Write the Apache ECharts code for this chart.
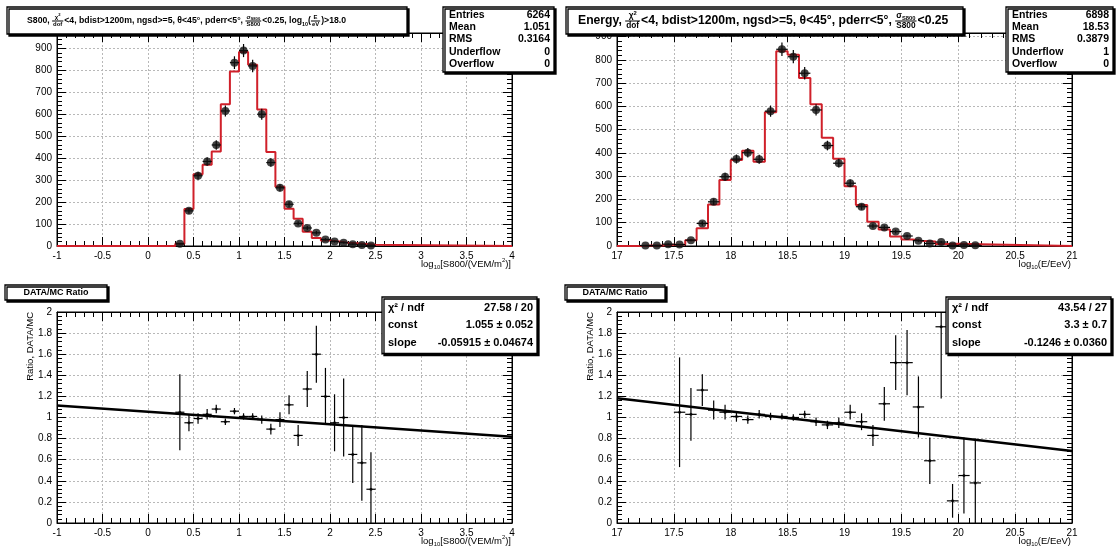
<!DOCTYPE html>
<html>
<head>
<meta charset="utf-8">
<script src="https://cdn.jsdelivr.net/npm/echarts@6/dist/echarts.min.js"></script>
<style>
html, body { margin: 0; background: #fff; }
#main { width: 1118px; height: 552px; }
</style>
</head>
<body>
<div id="main"></div>
<script>
// histogram bins are 0.1 wide, arrays start at the given low edge
var s800Start = 0.3;
var s800Data = [10, 160, 320, 385, 460, 615, 835, 890, 820, 600, 380, 265, 190, 103, 82, 60, 30, 20, 15, 8, 5, 2];
var s800Mc   = [10, 168, 327, 370, 430, 645, 795, 883, 825, 622, 428, 270, 170, 124, 65, 37, 25, 21, 15, 12, 9, 6];

var energyStart = 17.2;
var energyData = [2, 2, 8, 6, 25, 97, 190, 298, 374, 401, 373, 580, 846, 814, 743, 585, 432, 356, 270, 169, 86, 80, 62, 43, 23, 11, 17, 2, 4, 3];
var energyMc   = [2, 2, 5, 6, 25, 76, 178, 284, 370, 410, 362, 575, 838, 822, 722, 610, 465, 375, 257, 176, 104, 71, 41, 28, 21, 19, 9, 10, 9, 8];

// DATA/MC ratios
var ratioS800X   = [0.35, 0.45, 0.55, 0.65, 0.75, 0.85, 0.95, 1.05, 1.15, 1.25, 1.35, 1.45, 1.55, 1.65, 1.75, 1.85, 1.95, 2.05, 2.15, 2.25, 2.35, 2.45];
var ratioS800    = [1.05, 0.95, 0.99, 1.03, 1.08, 0.96, 1.06, 1.01, 1.01, 0.98, 0.89, 0.98, 1.12, 0.83, 1.27, 1.60, 1.20, 0.95, 1.00, 0.65, 0.57, 0.32];
var ratioS800Err = [0.36, 0.08, 0.05, 0.05, 0.04, 0.03, 0.03, 0.03, 0.03, 0.04, 0.05, 0.07, 0.09, 0.10, 0.17, 0.27, 0.27, 0.27, 0.37, 0.27, 0.36, 0.35];

var ratioEnergyX   = [17.55, 17.65, 17.75, 17.85, 17.95, 18.05, 18.15, 18.25, 18.35, 18.45, 18.55, 18.65, 18.75, 18.85, 18.95, 19.05, 19.15, 19.25, 19.35, 19.45, 19.55, 19.65, 19.75, 19.85, 19.95, 20.05, 20.15];
var ratioEnergy    = [1.05, 1.03, 1.26, 1.07, 1.05, 1.01, 0.98, 1.03, 1.01, 1.01, 1.00, 1.03, 0.96, 0.93, 0.95, 1.05, 0.96, 0.83, 1.13, 1.52, 1.52, 1.10, 0.59, 1.86, 0.21, 0.45, 0.38];
var ratioEnergyErr = [0.52, 0.25, 0.15, 0.09, 0.07, 0.05, 0.04, 0.04, 0.035, 0.03, 0.03, 0.035, 0.04, 0.04, 0.05, 0.07, 0.08, 0.10, 0.16, 0.26, 0.31, 0.29, 0.22, 0.68, 0.16, 0.36, 0.42];

// fitted lines (end points)
var fitS800X = [-1, 4];
var fitS800Y = [1.114, 0.818];
var fitEnergyX = [17, 21];
var fitEnergyY = [1.182, 0.683];

var statsS800 = [['Entries', '6264'], ['Mean', '1.051'], ['RMS', '0.3164'], ['Underflow', '0'], ['Overflow', '0']];
var statsEnergy = [['Entries', '6898'], ['Mean', '18.53'], ['RMS', '0.3879'], ['Underflow', '1'], ['Overflow', '0']];
var fitS800Rows = [['\u03c7\u00b2 / ndf', '27.58 / 20'], ['const', '1.055 \u00b1 0.052'], ['slope', '-0.05915 \u00b1 0.04674']];
var fitEnergyRows = [['\u03c7\u00b2 / ndf', '43.54 / 27'], ['const', '3.3 \u00b1 0.7'], ['slope', '-0.1246 \u00b1 0.0360']];

var FONT = '"Liberation Sans", Arial, sans-serif';
var RED = '#d0202a';

var mctx = document.createElement('canvas').getContext('2d');
function tw(s, size, weight) {
	mctx.font = (weight || 'normal') + ' ' + size + 'px ' + FONT;
	return mctx.measureText(s).width;
}

function r1(v) { return Math.round(v * 100) / 100; }

function stepData(start, vals, lo, hi) {
	var pts = [[lo, 0]];
	for (var i = 0; i < vals.length; i++) pts.push([r1(start + i * 0.1), vals[i]]);
	pts.push([r1(start + vals.length * 0.1), 0]);
	pts.push([hi, 0]);
	return pts;
}
function histPoints(start, vals) {
	return vals.map(function (v, i) { return [r1(start + (i + 0.5) * 0.1), v, Math.sqrt(v), 0.05]; });
}
function ratioPoints(xs, ys, es) {
	return xs.map(function (x, i) { return [x, ys[i], es[i], 0.05]; });
}

function errItem(params, api) {
	var x = api.value(0), y = api.value(1), ey = api.value(2), ex = api.value(3);
	var c = api.coord([x, y]);
	var t = api.coord([x, y + ey]);
	var b = api.coord([x, y - ey]);
	var l = api.coord([x - ex, y]);
	var r = api.coord([x + ex, y]);
	var st = { stroke: '#000', lineWidth: 1.2 };
	return { type: 'group', children: [
		{ type: 'line', shape: { x1: c[0], y1: t[1], x2: c[0], y2: b[1] }, style: st },
		{ type: 'line', shape: { x1: l[0], y1: c[1], x2: r[0], y2: c[1] }, style: st }
	] };
}

var tickCommon = {
	axisLine: { show: true, onZero: false, lineStyle: { color: '#000', width: 1 } },
	axisTick: { show: true, inside: true, length: 9, lineStyle: { color: '#000', width: 1 } },
	minorTick: { show: true, splitNumber: 5, length: 5, lineStyle: { color: '#000', width: 1 } }
};
function axisPair(g, min, max, interval, first, second) {
	var a = Object.assign({
		gridIndex: g, type: 'value', min: min, max: max, interval: interval, position: first,
		splitLine: { show: true, lineStyle: { color: '#b8b8b8', type: [2, 2], width: 1 } },
		axisLabel: { color: '#000', fontSize: 10, fontFamily: FONT, margin: 5, showMaxLabel: (max % interval) < 1e-9 || interval - (max % interval) < 1e-9 }
	}, tickCommon);
	var b = Object.assign({
		gridIndex: g, type: 'value', min: min, max: max, interval: interval, position: second,
		splitLine: { show: false }, axisLabel: { show: false }
	}, tickCommon);
	return [a, b];
}

var xAxes = [].concat(
	axisPair(0, -1, 4, 0.5, 'bottom', 'top'),
	axisPair(1, 17, 21, 0.5, 'bottom', 'top'),
	axisPair(2, -1, 4, 0.5, 'bottom', 'top'),
	axisPair(3, 17, 21, 0.5, 'bottom', 'top')
);
var yAxes = [].concat(
	axisPair(0, 0, 970, 100, 'left', 'right'),
	axisPair(1, 0, 916, 100, 'left', 'right'),
	axisPair(2, 0, 2, 0.2, 'left', 'right'),
	axisPair(3, 0, 2, 0.2, 'left', 'right')
);

function histSeries(g, start, data, mc, lo, hi) {
	return [
		{ type: 'line', xAxisIndex: 2 * g, yAxisIndex: 2 * g, data: stepData(start, mc, lo, hi), step: 'end',
		  symbol: 'none', lineStyle: { color: RED, width: 2 }, z: 2, animation: false },
		{ type: 'custom', xAxisIndex: 2 * g, yAxisIndex: 2 * g, data: histPoints(start, data), renderItem: errItem,
		  encode: { x: 0, y: 1 }, clip: true, z: 3, animation: false },
		{ type: 'scatter', xAxisIndex: 2 * g, yAxisIndex: 2 * g, data: histPoints(start, data), symbolSize: 8,
		  itemStyle: { color: '#111' }, z: 4, animation: false }
	];
}
function ratioSeries(g, xs, ys, es, fx, fy) {
	return [
		{ type: 'custom', xAxisIndex: 2 * g, yAxisIndex: 2 * g, data: ratioPoints(xs, ys, es), renderItem: errItem,
		  encode: { x: 0, y: 1 }, clip: true, z: 3, animation: false },
		{ type: 'scatter', xAxisIndex: 2 * g, yAxisIndex: 2 * g, data: ratioPoints(xs, ys, es), symbolSize: 3,
		  itemStyle: { color: '#000' }, z: 4, animation: false },
		{ type: 'line', xAxisIndex: 2 * g, yAxisIndex: 2 * g, data: fx.map(function (x, i) { return [x, fy[i]]; }),
		  symbol: 'none', lineStyle: { color: '#000', width: 2.5 }, z: 5, animation: false }
	];
}

// ---- text boxes ----
function txt(x, y, s, size, weight, align) {
	return { type: 'text', x: x, y: y, z: 101, style: { text: s, font: weight + ' ' + size + 'px ' + FONT, fill: '#000',
		align: align || 'left', verticalAlign: 'middle', textAlign: align || 'left', textVerticalAlign: 'middle' } };
}
function box(x, y, w, h) {
	return { type: 'rect', z: 100, shape: { x: x, y: y, width: w, height: h },
		style: { fill: '#fff', stroke: '#000', lineWidth: 1.3, shadowColor: '#000', shadowOffsetX: 2, shadowOffsetY: 2, shadowBlur: 0 } };
}
function buildMath(segs, size, weight) {
	var els = [], x = 0, fs = size * 0.68, ss = size * 0.62;
	function t(px, py, s, sz) { els.push(txt(px, py, s, sz, weight)); return tw(s, sz, weight); }
	segs.forEach(function (s) {
		if (typeof s === 'string') x += t(x, 0, s, size);
		else if (s.sub) x += t(x, size * 0.35, s.sub, ss);
		else if (s.sup) x += t(x, -size * 0.4, s.sup, ss);
		else {
			var nw = tw(s.n, fs, weight) + (s.nsub ? tw(s.nsub, fs * 0.7, weight) : 0) + (s.nsup ? tw(s.nsup, fs * 0.7, weight) : 0);
			var dw = tw(s.d, fs, weight);
			var w = Math.max(nw, dw) + 2;
			var ny = -fs * 0.62;
			var nx = x + 1 + (w - 2 - nw) / 2;
			nx += t(nx, ny, s.n, fs);
			if (s.nsub) t(nx, ny + fs * 0.3, s.nsub, fs * 0.7);
			if (s.nsup) t(nx, ny - fs * 0.35, s.nsup, fs * 0.7);
			els.push({ type: 'line', z: 101, shape: { x1: x, y1: 0, x2: x + w, y2: 0 }, style: { stroke: '#000', lineWidth: 1 } });
			t(x + 1 + (w - 2 - dw) / 2, fs * 0.62, s.d, fs);
			x += w + 1;
		}
	});
	return { els: els, width: x };
}
function mathGroup(segs, x0, cy, size, weight, align, fitWidth) {
	if (fitWidth) size = size * fitWidth / buildMath(segs, size, weight).width;
	var m = buildMath(segs, size, weight);
	return { type: 'group', x: align === 'right' ? x0 - m.width : x0, y: cy, z: 101, children: m.els };
}

var titleS800 = ['S800, ', { n: '\u03c7', nsup: '2', d: 'dof' }, '<4, bdist>1200m, ngsd>=5, \u03b8<45\u00b0, pderr<5\u00b0, ',
	{ n: '\u03c3', nsub: 'S800', d: 'S800' }, '<0.25, log', { sub: '10' }, '(', { n: 'E', d: 'eV' }, ')>18.0'];
var titleEnergy = ['Energy, ', { n: '\u03c7', nsup: '2', d: 'dof' }, '<4, bdist>1200m, ngsd>=5, \u03b8<45\u00b0, pderr<5\u00b0, ',
	{ n: '\u03c3', nsub: 'S800', d: 'S800' }, '<0.25'];
var xTitleS800 = ['log', { sub: '10' }, '[S800/(VEM/m', { sup: '2' }, ')]'];
var xTitleEnergy = ['log', { sub: '10' }, '(E/EeV)'];

function statsBox(x, y, w, rows, rowH, size) {
	var els = [box(x, y, w, rows.length * rowH + 4)];
	rows.forEach(function (r, i) {
		var cy = y + 2 + rowH * (i + 0.5);
		els.push(txt(x + 6, cy, r[0], size, 'bold'));
		els.push(txt(x + w - 4, cy, r[1], size, 'bold', 'right'));
	});
	return els;
}

var elements = [].concat(
	[box(7, 7, 400, 27), mathGroup(titleS800, 27, 21, 10, 'bold', 'left', 318)],
	[box(566, 7, 397, 27), mathGroup(titleEnergy, 578, 21, 10, 'bold', 'left', 372)],
	statsBox(443, 7, 111, statsS800, 12.2, 10.5),
	statsBox(1006, 7, 107, statsEnergy, 12.2, 10.5),
	[box(5, 285, 102, 15), txt(56, 292.5, 'DATA/MC Ratio', 9, 'bold', 'center')],
	[box(565, 285, 100, 15), txt(615, 292.5, 'DATA/MC Ratio', 9, 'bold', 'center')],
	statsBox(382, 297, 155, fitS800Rows, 17.5, 11),
	statsBox(946, 297, 165, fitEnergyRows, 17.5, 11),
	[mathGroup(xTitleS800, 511, 264, 9.5, 'normal', 'right'),
	 mathGroup(xTitleEnergy, 1071, 264, 9.5, 'normal', 'right'),
	 mathGroup(xTitleS800, 511, 541, 9.5, 'normal', 'right'),
	 mathGroup(xTitleEnergy, 1071, 541, 9.5, 'normal', 'right')],
	[{ type: 'text', x: 30, y: 312, rotation: Math.PI / 2, z: 101,
	   style: { text: 'Ratio, DATA/MC', font: 'normal 9.5px ' + FONT, fill: '#000', align: 'right', verticalAlign: 'middle', textAlign: 'right', textVerticalAlign: 'middle' } },
	 { type: 'text', x: 590, y: 312, rotation: Math.PI / 2, z: 101,
	   style: { text: 'Ratio, DATA/MC', font: 'normal 9.5px ' + FONT, fill: '#000', align: 'right', verticalAlign: 'middle', textAlign: 'right', textVerticalAlign: 'middle' } }]
);

var chart = echarts.init(document.getElementById('main'));
chart.setOption({
	backgroundColor: '#fff',
	animation: false,
	grid: [
		{ left: 57, top: 33, width: 455, height: 213, show: true, borderColor: '#000', borderWidth: 1, backgroundColor: '#fff' },
		{ left: 617, top: 33, width: 455, height: 213, show: true, borderColor: '#000', borderWidth: 1, backgroundColor: '#fff' },
		{ left: 57, top: 312, width: 455, height: 211, show: true, borderColor: '#000', borderWidth: 1, backgroundColor: '#fff' },
		{ left: 617, top: 312, width: 455, height: 211, show: true, borderColor: '#000', borderWidth: 1, backgroundColor: '#fff' }
	],
	xAxis: xAxes,
	yAxis: yAxes,
	series: [].concat(
		histSeries(0, s800Start, s800Data, s800Mc, -1, 4),
		histSeries(1, energyStart, energyData, energyMc, 17, 21),
		ratioSeries(2, ratioS800X, ratioS800, ratioS800Err, fitS800X, fitS800Y),
		ratioSeries(3, ratioEnergyX, ratioEnergy, ratioEnergyErr, fitEnergyX, fitEnergyY)
	),
	graphic: { elements: elements }
});
</script>
</body>
</html>
